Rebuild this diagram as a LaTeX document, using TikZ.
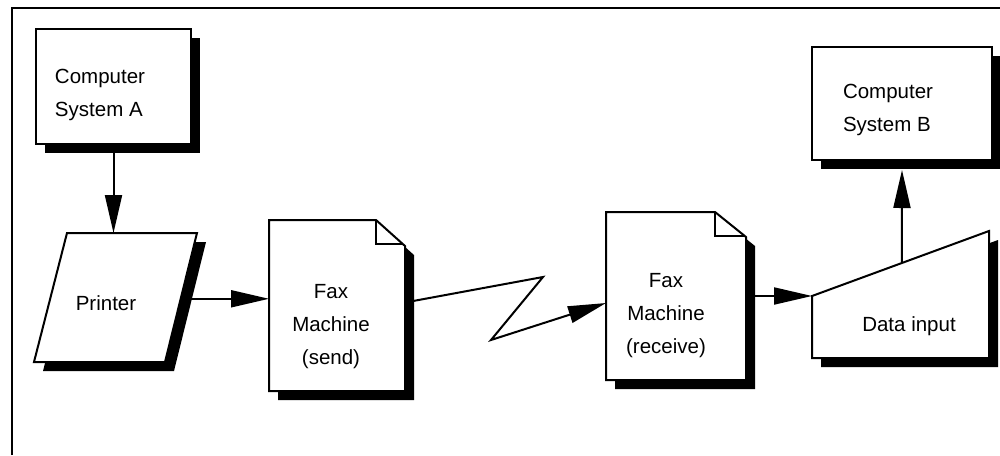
\documentclass[tikz,border=0pt]{standalone}
\usepackage{fontspec}
\setmainfont{Liberation Sans}
\usetikzlibrary{arrows.meta,shadows,calc}
\tikzset{
  lw/.style={line width=2pt},
  shade9/.style={drop shadow={shadow xshift=9pt, shadow yshift=-9pt, fill=black, opacity=1}},
  shapeline/.style={draw, lw, fill=white, shade9, line join=miter},
  boxshape/.style={shapeline, rectangle, inner sep=0pt},
  frameonly/.style={rectangle, inner sep=0pt, outer sep=0pt},
  txt/.style={font=\fontsize{20.5}{33}\selectfont, inner sep=0pt},
  conn/.style={lw, -{Triangle[length=38pt,width=17pt]}, line join=miter},
}
\begin{document}
\begin{tikzpicture}[x=1pt,y=-1pt]
\useasboundingbox (0,0) rectangle (1000,455);
% outer frame (only top and left edges are visible)
\draw[lw] (12,455) -- (12,8) -- (1000,8);

% Computer System A
\node[boxshape, minimum width=155pt, minimum height=115pt] (csA) at (113.5,86.5) {};
\node[txt, align=left] (csAt) at (100,94.5) {Computer\\System A};

% Computer System B
\node[boxshape, minimum width=180pt, minimum height=113pt] (csB) at (902,103.5) {};
\node[txt, align=left] (csBt) at (888,110) {Computer\\System B};

% Printer (parallelogram)
\coordinate (p1) at (67,233);
\coordinate (p2) at (197,233);
\coordinate (p3) at (165,362);
\coordinate (p4) at (34,362);
\path[shapeline] (p1) -- (p2) -- (p3) -- (p4) -- cycle;
\node[txt, anchor=base] (prn) at (106,310) {Printer};
\coordinate (prnR) at ($(p2)!0.51!(p3)$);

% Fax Machine (send)
\node[frameonly, minimum width=136pt, minimum height=171pt] (faxS) at (337,305.5) {};
\path[shapeline] (faxS.north west) -- ([xshift=-29pt]faxS.north east)
  -- ([yshift=-26pt]faxS.north east) -- (faxS.south east) -- (faxS.south west) -- cycle;
\draw[lw, line join=miter] ([xshift=-29pt]faxS.north east) -- ([xshift=-29pt,yshift=-24pt]faxS.north east)
  -- ([xshift=-2pt,yshift=-24pt]faxS.north east);
\node[txt, align=center] (faxSt) at (331,327) {Fax\\Machine\\(send)};

% Fax Machine (receive)
\node[frameonly, minimum width=140pt, minimum height=168pt] (faxR) at (676,296) {};
\path[shapeline] (faxR.north west) -- ([xshift=-31pt]faxR.north east)
  -- ([yshift=-25pt]faxR.north east) -- (faxR.south east) -- (faxR.south west) -- cycle;
\draw[lw, line join=miter] ([xshift=-31pt]faxR.north east) -- ([xshift=-31pt,yshift=-24pt]faxR.north east)
  -- ([xshift=-2pt,yshift=-24pt]faxR.north east);
\node[txt, align=center] (faxRt) at (666,316) {Fax\\Machine\\(receive)};

% Data input (manual input)
\node[frameonly, minimum width=177pt, minimum height=127pt] (din) at (900.5,294.5) {};
\coordinate (dinL) at ([yshift=-65pt]din.north west);
\path[shapeline] (dinL) -- (din.north east) -- (din.south east) -- (din.south west) -- cycle;
\node[txt, anchor=base] (dint) at (909,331.5) {Data input};
\coordinate (dinTop) at ($(dinL)!0.508!(din.north east)$);

% zigzag bend points
\coordinate (zz1) at (543,277);
\coordinate (zz2) at (491,340);

% connectors
\draw[conn] (csA.south) -- (csA.south |- p1);
\draw[conn] (prnR) -- (prnR -| faxS.west);
\draw[conn] ([yshift=3pt]faxS.east) -- (zz1) -- (zz2) -- ([yshift=-7pt]faxR.west);
\draw[conn] (faxR.east) -- (dinL);
\draw[conn] (dinTop) -- ([yshift=-9pt]csB.south);
\end{tikzpicture}
\end{document}
